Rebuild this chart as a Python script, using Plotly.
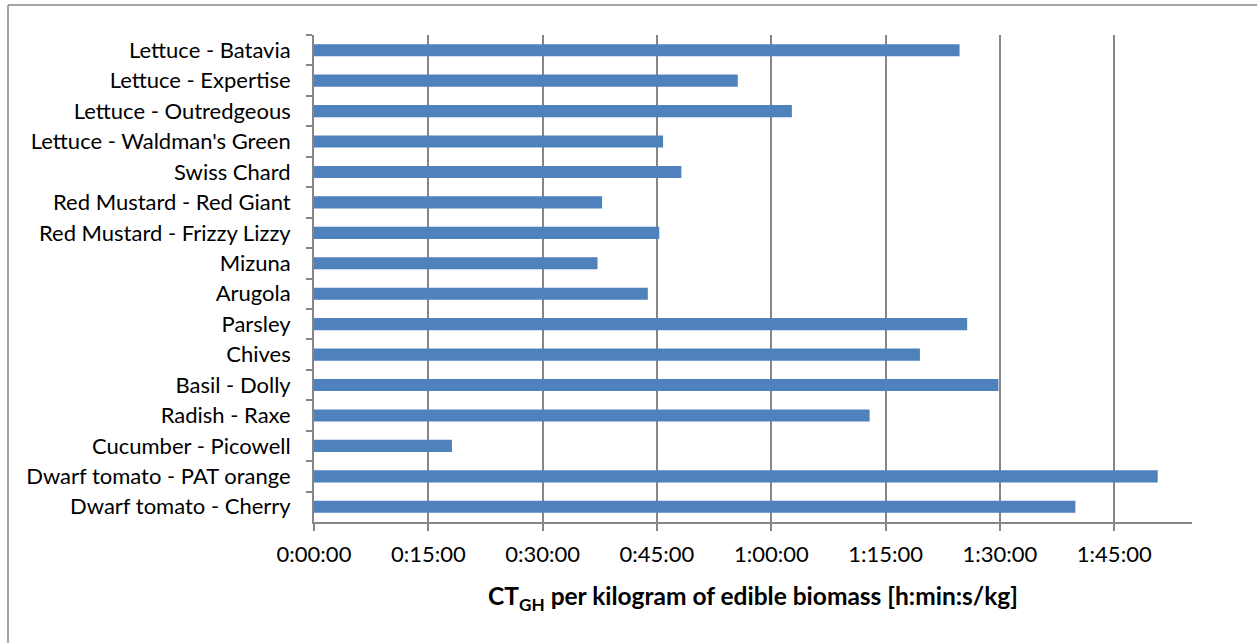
import plotly.graph_objects as go

# Categories listed top to bottom as in the chart
categories = [
    "Lettuce - Batavia",
    "Lettuce - Expertise",
    "Lettuce - Outredgeous",
    "Lettuce - Waldman's Green",
    "Swiss Chard",
    "Red Mustard - Red Giant",
    "Red Mustard - Frizzy Lizzy",
    "Mizuna",
    "Arugola",
    "Parsley",
    "Chives",
    "Basil - Dolly",
    "Radish - Raxe",
    "Cucumber - Picowell",
    "Dwarf tomato - PAT orange",
    "Dwarf tomato - Cherry",
]
# CT_GH per kg of edible biomass, in minutes
minutes = [84.7, 55.6, 62.7, 45.8, 48.2, 37.8, 45.3, 37.2, 43.8,
           85.7, 79.5, 89.8, 72.9, 18.1, 110.7, 99.9]

tick_minutes = [0, 15, 30, 45, 60, 75, 90, 105]
tick_labels = ["0:00:00", "0:15:00", "0:30:00", "0:45:00",
               "1:00:00", "1:15:00", "1:30:00", "1:45:00"]
x_max = 115.2  # 0.08 day

GRAY = "#868686"
FONT = "Lato"
FS = 22
LW = 1.8

fig = go.Figure(go.Bar(
    x=minutes, y=categories, orientation="h",
    marker=dict(color="#4F81BD", line=dict(width=0)),
))

L, R, T, B = 314, 1257 - 1192, 35, 643 - 522
W, H = 1257, 643
pw, ph = W - L - R, H - T - B

fig.update_layout(
    width=W, height=H,
    margin=dict(l=L, r=R, t=T, b=B, pad=0),
    paper_bgcolor="white", plot_bgcolor="white",
    bargap=0.6,
    showlegend=False,
    font=dict(family=FONT, size=FS, color="black"),
    xaxis=dict(
        range=[0, x_max],
        tickvals=tick_minutes, ticktext=tick_labels,
        showgrid=True, gridcolor=GRAY, gridwidth=LW,
        showline=True, linecolor=GRAY, linewidth=LW,
        ticks="outside", ticklen=7, tickcolor=GRAY, tickwidth=LW,
        ticklabelstandoff=5,
        zeroline=False,
        tickfont=dict(family=FONT, size=FS),
        title=dict(
            text="<b>CT<sub>GH</sub> per kilogram of edible biomass [h:min:s/kg]</b>",
            font=dict(family=FONT, size=24.5),
            standoff=22,
        ),
    ),
    yaxis=dict(
        autorange="reversed",
        showgrid=False,
        showline=True, linecolor=GRAY, linewidth=LW,
        ticks="outside", ticklen=6, tickcolor=GRAY, tickwidth=LW,
        tickson="boundaries",
        ticklabelstandoff=17,
        tickfont=dict(family=FONT, size=FS),
    ),
    shapes=[
        dict(type="line", xref="paper", yref="paper",
             x0=(8 - L) / pw, x1=(8 - L) / pw,
             y0=1 + (T - 5) / ph, y1=-(B + 10) / ph,
             line=dict(color=GRAY, width=1.5)),
        dict(type="line", xref="paper", yref="paper",
             x0=(8 - L) / pw, x1=(W + 10 - L) / pw,
             y0=1 + (T - 5) / ph, y1=1 + (T - 5) / ph,
             line=dict(color=GRAY, width=1.5)),
    ],
)

fig.write_html(
    "out.html",
    config={"displayModeBar": False},
    post_script="document.body.style.margin='0px';document.body.style.overflow='hidden';",
)
